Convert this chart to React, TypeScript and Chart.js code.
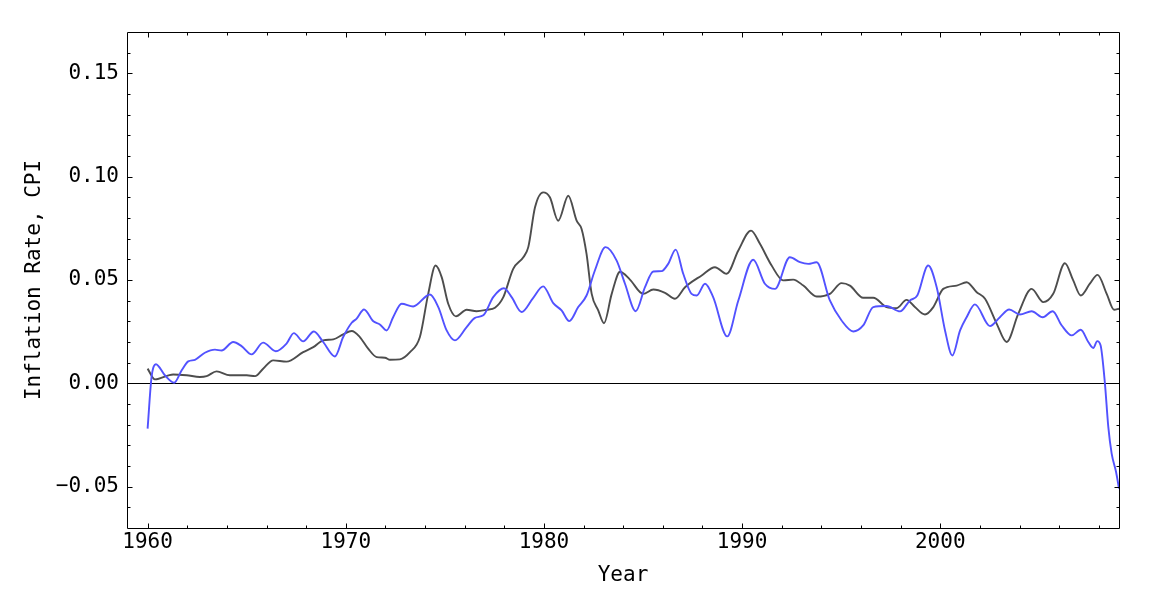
import React, { useEffect, useRef } from "react";
import { Chart, registerables } from "chart.js";

Chart.register(...registerables);

// ---- data ----
const xTickValues = [1960, 1970, 1980, 1990, 2000];
const yTickValues = [-0.05, 0, 0.05, 0.1, 0.15];
const xLimits = [1958.96, 2009.02];
const yLimits = [-0.07, 0.17];
const xMinorStep = 2;
const yMinorStep = 0.01;

const grayYears = [
  1960.0, 1960.37, 1961.29, 1961.97, 1962.64, 1962.98, 1963.48, 1964.15, 1965.0, 1965.42,
  1965.83, 1966.34, 1967.01, 1967.85, 1968.36, 1968.86, 1969.37, 1969.87, 1970.3, 1970.71,
  1971.13, 1971.56, 1971.98, 1972.23, 1972.73, 1973.24, 1973.74, 1974.16, 1974.53, 1974.84,
  1975.17, 1975.56, 1976.1, 1976.6, 1977.11, 1977.53, 1977.95, 1978.45, 1978.96, 1979.21,
  1979.55, 1979.96, 1980.3, 1980.72, 1981.23, 1981.65, 1981.9, 1982.15, 1982.41, 1982.74,
  1983.03, 1983.42, 1983.84, 1984.34, 1985.01, 1985.52, 1986.11, 1986.61, 1987.12, 1987.96,
  1988.63, 1989.22, 1989.81, 1990.45, 1990.9, 1991.49, 1992.08, 1992.58, 1993.09, 1993.76,
  1994.43, 1995.02, 1995.44, 1996.11, 1996.62, 1997.29, 1997.8, 1998.3, 1998.72, 1999.23,
  1999.65, 2000.15, 2000.83, 2001.33, 2001.84, 2002.26, 2002.85, 2003.35, 2003.94, 2004.61,
  2005.2, 2005.7, 2006.29, 2006.71, 2007.09, 2007.55, 2007.94, 2008.4, 2008.77, 2009.02,
];
const grayRates = [
  0.0071, 0.0019, 0.0043, 0.0039, 0.0031, 0.0035, 0.0058, 0.0039, 0.0039, 0.0035,
  0.0071, 0.0111, 0.0105, 0.0151, 0.0175, 0.0208, 0.0213, 0.0237, 0.0253, 0.0224,
  0.0168, 0.0127, 0.0124, 0.0114, 0.0116, 0.0151, 0.0224, 0.0433, 0.057, 0.0514,
  0.0385, 0.0324, 0.0356, 0.0349, 0.0356, 0.0366, 0.0417, 0.0554, 0.061, 0.0659,
  0.0852, 0.0924, 0.09, 0.0787, 0.0908, 0.0787, 0.0747, 0.0626, 0.0433, 0.0353,
  0.0291, 0.0433, 0.054, 0.0502, 0.0433, 0.0454, 0.0438, 0.0409, 0.0465, 0.0522,
  0.0562, 0.053, 0.0643, 0.0739, 0.0675, 0.057, 0.0498, 0.0502, 0.0473, 0.042,
  0.0433, 0.0485, 0.0473, 0.0414, 0.0414, 0.0369, 0.0364, 0.0404, 0.0369, 0.0333,
  0.0369, 0.0457, 0.0473, 0.0489, 0.0441, 0.0409, 0.0288, 0.02, 0.0337, 0.0457,
  0.0393, 0.0433, 0.0581, 0.0498, 0.0425, 0.0482, 0.0525, 0.0433, 0.0356, 0.0361,
];

const blueYears = [
  1960.0, 1960.2, 1960.42, 1960.87, 1961.34, 1961.72, 1962.05, 1962.39, 1962.89, 1963.4,
  1963.73, 1964.32, 1964.74, 1965.25, 1965.83, 1966.47, 1967.01, 1967.38, 1967.85, 1968.39,
  1968.86, 1969.45, 1969.87, 1970.3, 1970.55, 1970.92, 1971.39, 1971.72, 1972.06, 1972.39,
  1972.82, 1973.4, 1974.25, 1974.67, 1975.09, 1975.51, 1976.1, 1976.52, 1976.94, 1977.44,
  1977.98, 1978.37, 1978.87, 1979.46, 1979.96, 1980.47, 1980.89, 1981.28, 1981.73, 1982.15,
  1982.57, 1983.11, 1983.67, 1984.09, 1984.63, 1985.1, 1985.52, 1985.94, 1986.27, 1986.65,
  1987.03, 1987.45, 1987.71, 1988.13, 1988.54, 1989.25, 1989.81, 1990.56, 1991.15, 1991.66,
  1992.41, 1992.92, 1993.34, 1993.76, 1994.43, 1995.02, 1995.61, 1996.11, 1996.62, 1997.29,
  1997.97, 1998.47, 1998.84, 1999.39, 1999.82, 2000.24, 2000.61, 2001.0, 2001.33, 2001.75,
  2002.51, 2003.01, 2003.48, 2004.02, 2004.61, 2005.17, 2005.67, 2006.13, 2006.63, 2007.09,
  2007.47, 2007.72, 2007.92, 2008.09, 2008.31, 2008.48, 2008.65, 2008.87, 2009.02,
];
const blueRates = [
  -0.0219, 0.0031, 0.0092, 0.0039, 0.0003, 0.0063, 0.0106, 0.0114, 0.0148, 0.0163,
  0.0159, 0.02, 0.018, 0.014, 0.0197, 0.0155, 0.0192, 0.0243, 0.0203, 0.0251,
  0.02, 0.013, 0.0224, 0.0293, 0.0313, 0.0357, 0.03, 0.0285, 0.0256, 0.032,
  0.0385, 0.0372, 0.043, 0.0369, 0.0256, 0.0208, 0.0272, 0.0317, 0.0329, 0.0417,
  0.046, 0.0417, 0.0345, 0.0414, 0.0469, 0.0388, 0.0353, 0.0301, 0.0369, 0.0425,
  0.0546, 0.0659, 0.0594, 0.0482, 0.0349, 0.0465, 0.0541, 0.0543, 0.0578, 0.0647,
  0.053, 0.0433, 0.0425, 0.0482, 0.0417, 0.0227, 0.0401, 0.0598, 0.0482, 0.0457,
  0.061, 0.0586, 0.0578, 0.0586, 0.0401, 0.0304, 0.0251, 0.028, 0.0369, 0.0374,
  0.0348, 0.0401, 0.0425, 0.057, 0.0465, 0.0256, 0.0135, 0.0256, 0.032, 0.0382,
  0.0277, 0.032, 0.0357, 0.0333, 0.0349, 0.032, 0.0349, 0.028, 0.0232, 0.0259,
  0.02, 0.0171, 0.0204, 0.0184, -0.0001, -0.0211, -0.034, -0.0428, -0.0509,
];

const GRAY = "rgb(77,77,77)";
const BLUE = "rgb(82,82,255)";
const MONO = "'DejaVu Sans Mono', monospace";

const framePlugin = {
  id: "mmaFrame",
  beforeDatasetsDraw(chart: any) {
    const { ctx, chartArea } = chart;
    const y0 = Math.round(chart.scales.y.getPixelForValue(0)) + 0.5;
    ctx.save();
    ctx.strokeStyle = "#000";
    ctx.lineWidth = 1;
    ctx.beginPath();
    ctx.moveTo(chartArea.left, y0);
    ctx.lineTo(chartArea.right, y0);
    ctx.stroke();
    ctx.restore();
  },
  afterDraw(chart: any) {
    const { ctx, chartArea } = chart;
    const xs = chart.scales.x;
    const ys = chart.scales.y;
    const L = Math.floor(chartArea.left) + 0.5;
    const R = Math.floor(chartArea.right) + 0.5;
    const T = Math.floor(chartArea.top) + 0.5;
    const B = Math.floor(chartArea.bottom) + 0.5;
    ctx.save();
    ctx.strokeStyle = "#000";
    ctx.lineWidth = 1;
    ctx.beginPath();
    ctx.rect(L, T, R - L, B - T);
    for (let v = xTickValues[0]; v <= xLimits[1] + 1e-9; v += xMinorStep) {
      const px = Math.round(xs.getPixelForValue(v)) + 0.5;
      if (px <= L + 1 || px >= R - 1) continue;
      const major = xTickValues.some((t) => Math.abs(t - v) < 1e-6);
      const len = major ? 5 : 3;
      ctx.moveTo(px, B);
      ctx.lineTo(px, B - len);
      ctx.moveTo(px, T);
      ctx.lineTo(px, T + len);
    }
    const start = Math.ceil(yLimits[0] / yMinorStep - 1e-6);
    const end = Math.floor(yLimits[1] / yMinorStep + 1e-6);
    for (let i = start; i <= end; i++) {
      const v = i * yMinorStep;
      const py = Math.round(ys.getPixelForValue(v)) + 0.5;
      if (py <= T + 1 || py >= B - 1) continue;
      const major = yTickValues.some((t) => Math.abs(t - v) < 1e-6);
      const len = major ? 5 : 3;
      ctx.moveTo(L, py);
      ctx.lineTo(L + len, py);
      ctx.moveTo(R, py);
      ctx.lineTo(R - len, py);
    }
    ctx.stroke();
    ctx.restore();
  },
};

export default function App() {
  const canvasRef = useRef<HTMLCanvasElement | null>(null);

  useEffect(() => {
    const canvas = canvasRef.current;
    if (!canvas) return;
    const chart = new Chart(canvas, {
      type: "line",
      data: {
        datasets: [
          {
            label: "Series B",
            data: blueYears.map((x, i) => ({ x, y: blueRates[i] })),
            borderColor: BLUE,
            borderWidth: 1.9,
            pointRadius: 0,
            fill: false,
            cubicInterpolationMode: "monotone",
            order: 0,
          },
          {
            label: "Series A",
            data: grayYears.map((x, i) => ({ x, y: grayRates[i] })),
            borderColor: GRAY,
            borderWidth: 1.9,
            pointRadius: 0,
            fill: false,
            cubicInterpolationMode: "monotone",
            order: 1,
          },
        ],
      },
      options: {
        animation: false,
        responsive: false,
        devicePixelRatio: 1,
        layout: { padding: { left: 0, top: 32, right: 33, bottom: 0 } },
        plugins: { legend: { display: false }, tooltip: { enabled: false } },
        scales: {
          x: {
            type: "linear",
            min: xLimits[0],
            max: xLimits[1],
            grid: { display: false, drawTicks: false },
            border: { display: false },
            afterBuildTicks: (axis: any) => {
              axis.ticks = xTickValues.map((v) => ({ value: v }));
            },
            afterFit: (axis: any) => {
              axis.height = 82;
            },
            ticks: {
              padding: 2,
              color: "#000",
              font: { family: MONO, size: 21 },
              maxRotation: 0,
              autoSkip: false,
              callback: (v: any) => String(v),
            },
            title: {
              display: true,
              text: "Year",
              color: "#000",
              font: { family: MONO, size: 21 },
              padding: { top: 0, bottom: 22 },
            },
          },
          y: {
            type: "linear",
            min: yLimits[0],
            max: yLimits[1],
            grid: { display: false, drawTicks: false },
            border: { display: false },
            afterBuildTicks: (axis: any) => {
              axis.ticks = yTickValues.map((v) => ({ value: v }));
            },
            afterFit: (axis: any) => {
              axis.width = 127;
            },
            ticks: {
              padding: 8,
              color: "#000",
              font: { family: MONO, size: 21 },
              autoSkip: false,
              callback: (v: any) => {
                const n = Number(v);
                return (n < -1e-9 ? "\u2212" : "") + Math.abs(n).toFixed(2);
              },
            },
            title: {
              display: true,
              text: "Inflation Rate, CPI",
              color: "#000",
              font: { family: MONO, size: 21 },
              padding: { top: 22, bottom: 0 },
            },
          },
        },
      },
      plugins: [framePlugin],
    } as any);
    return () => chart.destroy();
  }, []);

  return (
    <div
      style={{
        position: "fixed",
        left: 0,
        top: 0,
        width: 1152,
        height: 610,
        background: "#fff",
      }}
    >
      <canvas ref={canvasRef} width={1152} height={610} style={{ display: "block" }} />
    </div>
  );
}
